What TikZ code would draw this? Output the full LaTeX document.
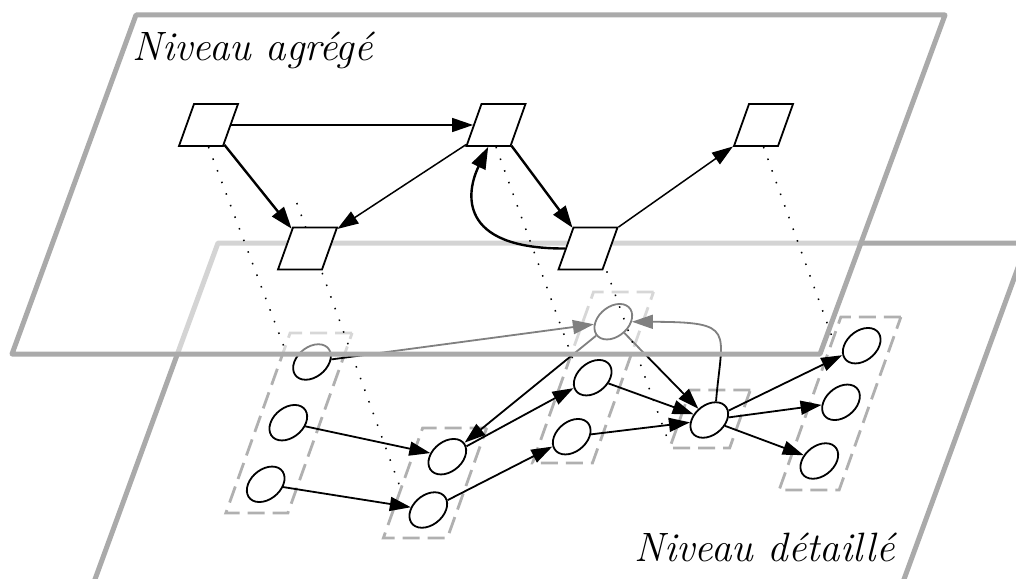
\documentclass[tikz,border=0pt]{standalone}
\usetikzlibrary{arrows.meta}
\definecolor{planegrey}{HTML}{AAAAAA}
\definecolor{groupgrey}{HTML}{B0B0B0}
\pgfdeclarelayer{back}
\pgfdeclarelayer{mid}
\pgfsetlayers{back,mid,main}
\begin{document}
\begin{tikzpicture}[x=1pt,y=-1pt,
  plane/.style={draw=planegrey,line width=5pt,line join=round},
  box/.style={draw,fill=white,rectangle,minimum width=44pt,minimum height=42pt,inner sep=0pt,xslant=0.357,line width=1.8pt},
  ell/.style={draw,fill=white,circle,minimum size=35.5pt,inner sep=0pt,xslant=0.36,line width=1.8pt},
  grp/.style={draw=groupgrey,rectangle,inner sep=0pt,xslant=0.357,line width=2.8pt,dash pattern=on 17pt off 8pt},
  arr/.style={-{Triangle[length=21pt,width=14pt]},line width=1.8pt},
  arrthin/.style={-{Triangle[length=21pt,width=14pt]},line width=1.5pt},
  arrthick/.style={-{Triangle[length=22pt,width=15pt]},line width=2.4pt},
  proj/.style={line width=1.5pt,dash pattern=on 1.5pt off 10.9pt},
  lbl/.style={font=\fontsize{41}{49}\selectfont\itshape,inner sep=0pt}
]
\useasboundingbox (0,0) rectangle (1016,578);
\begin{pgfonlayer}{back}
\fill[white] (0,0) rectangle (1016,578);
\end{pgfonlayer}
\clip (0,0) rectangle (1016,578);

% aggregated nodes (upper level)
\node[box] (a1) at (208.5,125) {};
\node[box] (a2) at (496,125) {};
\node[box] (a3) at (307.5,248.5) {};
\node[box] (a4) at (588,248.5) {};
\node[box] (a5) at (763.5,125) {};

\begin{pgfonlayer}{back}
% lower plane
\draw[plane] (218,243) -- (1027,243) -- (903,582) -- (94,582) -- cycle;
\node[lbl,anchor=base west] (t2) at (634,561) {Niveau détaillé};

% groups
\node[grp,minimum width=62pt,minimum height=180pt] (g1) at (289,423) {};
\node[grp,minimum width=64pt,minimum height=110pt] (g2) at (435,483) {};
\node[grp,minimum width=60pt,minimum height=171pt] (g3) at (593,377.5) {};
\node[grp,minimum width=60pt,minimum height=58pt] (g4) at (710,419) {};
\node[grp,minimum width=60pt,minimum height=173pt] (g5) at (840,403.5) {};

% detailed nodes
\node[ell] (d1) at (312,362) {};
\node[ell] (d2) at (288.3,422.7) {};
\node[ell] (d3) at (265.7,484.3) {};
\node[ell] (d4) at (447.3,456.7) {};
\node[ell] (d5) at (428.3,510) {};
\node[ell] (dt) at (613.3,321.7) {};
\node[ell] (d6) at (592.7,377.7) {};
\node[ell] (d7) at (571.7,436.7) {};
\node[ell] (dc) at (709.3,420) {};
\node[ell] (e1) at (861.7,345.7) {};
\node[ell] (e2) at (841,402.3) {};
\node[ell] (e3) at (819.3,461) {};

\draw[arr] (d1) -- (dt);
\draw[arr] (d2) -- (d4);
\draw[arr] (d3) -- (d5);
\draw[arr] (d5) -- (d7);
\draw[arr] (d4) -- (d6);
\draw[arr] (dt) -- (d4);
\draw[arr] (dt) -- (dc);
\draw[arr] (d6) -- (dc);
\draw[arr] (d7) -- (dc);
\draw[arr] (dc.north) .. controls (722,330) and (737,322) .. (dt);
\draw[arr] (dc) -- (e1);
\draw[arr] (dc) -- (e2);
\draw[arr] (dc) -- (e3);

% upper plane (semi-transparent white)
\fill[white,opacity=0.5] (136,15) -- (945,15) -- (820,354) -- (12,354) -- cycle;
\end{pgfonlayer}

% projection lines between the levels
\coordinate (q1) at (286,352);
\coordinate (p2) at (296.8,203);
\coordinate (q2) at (400,487);
\coordinate (q3) at (575,365);
\coordinate (p4) at (598.3,248);
\coordinate (q4) at (669.3,444);
\coordinate (q5) at (835,345);
\begin{pgfonlayer}{mid}
\draw[proj] (a1.center |- a1.south) -- (q1);
\draw[proj] (p2) -- (q2);
\draw[proj] (a2.center |- a2.south) -- (q3);
\draw[proj] (p4) -- (q4);
\draw[proj] (a5.center |- a5.south) -- (q5);
\draw[plane] (136,15) -- (945,15) -- (820,354) -- (12,354) -- cycle;
\end{pgfonlayer}

\node[lbl,anchor=base west] (t1) at (132,60) {Niveau agrégé};

\draw[arrthin] (a1) -- (a2);
\draw[arrthick] (a1) -- (a3);
\draw[arrthin] (a2) -- (a3);
\draw[arrthick] (a2) -- (a4);
\draw[arrthick] (a4.west) .. controls (456,249) and (466.5,191) .. (a2.south);
\draw[arrthin] (a4) -- (a5);
\end{tikzpicture}
\end{document}
